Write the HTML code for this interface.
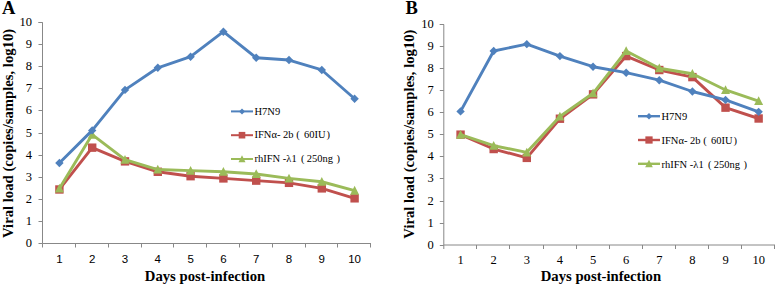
<!DOCTYPE html>
<html><head><meta charset="utf-8"><style>
html,body{margin:0;padding:0;background:#fff;}
body{width:778px;height:286px;overflow:hidden;}
svg{display:block;}
text{font-family:"Liberation Serif",serif;fill:#000;}
.yl{font-size:12.5px;}
.xlx{font-family:"Liberation Sans",sans-serif;font-size:11.5px;}
.xls{font-size:12.5px;}
.lg{font-size:10.5px;}
.let{font-size:18.5px;font-weight:bold;}
.xt{font-size:14.7px;font-weight:bold;}
.yt{font-size:14.7px;font-weight:bold;}
</style></head><body>
<svg width="778" height="286" viewBox="0 0 778 286">
<path d="M38.5,22.5H42.5V243.5H371.0" fill="none" stroke="#888888" stroke-width="1"/>
<path d="M38.5,243.5H42.5" stroke="#888888" stroke-width="1"/>
<text x="32" y="247.20" text-anchor="end" class="yl">0</text>
<path d="M38.5,221.5H42.5" stroke="#888888" stroke-width="1"/>
<text x="32" y="225.07" text-anchor="end" class="yl">1</text>
<path d="M38.5,199.5H42.5" stroke="#888888" stroke-width="1"/>
<text x="32" y="202.94" text-anchor="end" class="yl">2</text>
<path d="M38.5,177.5H42.5" stroke="#888888" stroke-width="1"/>
<text x="32" y="180.81" text-anchor="end" class="yl">3</text>
<path d="M38.5,155.5H42.5" stroke="#888888" stroke-width="1"/>
<text x="32" y="158.68" text-anchor="end" class="yl">4</text>
<path d="M38.5,133.5H42.5" stroke="#888888" stroke-width="1"/>
<text x="32" y="136.55" text-anchor="end" class="yl">5</text>
<path d="M38.5,110.5H42.5" stroke="#888888" stroke-width="1"/>
<text x="32" y="114.42" text-anchor="end" class="yl">6</text>
<path d="M38.5,88.5H42.5" stroke="#888888" stroke-width="1"/>
<text x="32" y="92.29" text-anchor="end" class="yl">7</text>
<path d="M38.5,66.5H42.5" stroke="#888888" stroke-width="1"/>
<text x="32" y="70.16" text-anchor="end" class="yl">8</text>
<path d="M38.5,44.5H42.5" stroke="#888888" stroke-width="1"/>
<text x="32" y="48.03" text-anchor="end" class="yl">9</text>
<path d="M38.5,22.5H42.5" stroke="#888888" stroke-width="1"/>
<text x="32" y="25.90" text-anchor="end" class="yl">10</text>
<path d="M42.5,243.5V247.5" stroke="#888888" stroke-width="1"/>
<path d="M75.5,243.5V247.5" stroke="#888888" stroke-width="1"/>
<path d="M108.5,243.5V247.5" stroke="#888888" stroke-width="1"/>
<path d="M141.5,243.5V247.5" stroke="#888888" stroke-width="1"/>
<path d="M173.5,243.5V247.5" stroke="#888888" stroke-width="1"/>
<path d="M206.5,243.5V247.5" stroke="#888888" stroke-width="1"/>
<path d="M239.5,243.5V247.5" stroke="#888888" stroke-width="1"/>
<path d="M272.5,243.5V247.5" stroke="#888888" stroke-width="1"/>
<path d="M305.5,243.5V247.5" stroke="#888888" stroke-width="1"/>
<path d="M337.5,243.5V247.5" stroke="#888888" stroke-width="1"/>
<path d="M370.5,243.5V247.5" stroke="#888888" stroke-width="1"/>
<text x="59.40" y="262.7" text-anchor="middle" class="xlx">1</text>
<text x="92.20" y="262.7" text-anchor="middle" class="xlx">2</text>
<text x="125.00" y="262.7" text-anchor="middle" class="xlx">3</text>
<text x="157.80" y="262.7" text-anchor="middle" class="xlx">4</text>
<text x="190.60" y="262.7" text-anchor="middle" class="xlx">5</text>
<text x="223.40" y="262.7" text-anchor="middle" class="xlx">6</text>
<text x="256.20" y="262.7" text-anchor="middle" class="xlx">7</text>
<text x="289.00" y="262.7" text-anchor="middle" class="xlx">8</text>
<text x="321.80" y="262.7" text-anchor="middle" class="xlx">9</text>
<text x="354.60" y="262.7" text-anchor="middle" class="xlx">10</text>
<polyline points="59.40,189.48 92.20,147.66 125.00,161.38 157.80,171.78 190.60,176.20 223.40,178.42 256.20,180.63 289.00,182.84 321.80,188.38 354.60,198.33" fill="none" stroke="#C0504D" stroke-width="2.9" stroke-linejoin="round"/>
<rect x="55.20" y="185.28" width="8.40" height="8.40" fill="#C0504D"/>
<rect x="88.00" y="143.46" width="8.40" height="8.40" fill="#C0504D"/>
<rect x="120.80" y="157.18" width="8.40" height="8.40" fill="#C0504D"/>
<rect x="153.60" y="167.58" width="8.40" height="8.40" fill="#C0504D"/>
<rect x="186.40" y="172.00" width="8.40" height="8.40" fill="#C0504D"/>
<rect x="219.20" y="174.22" width="8.40" height="8.40" fill="#C0504D"/>
<rect x="252.00" y="176.43" width="8.40" height="8.40" fill="#C0504D"/>
<rect x="284.80" y="178.64" width="8.40" height="8.40" fill="#C0504D"/>
<rect x="317.60" y="184.18" width="8.40" height="8.40" fill="#C0504D"/>
<rect x="350.40" y="194.13" width="8.40" height="8.40" fill="#C0504D"/>
<polyline points="59.40,188.38 92.20,134.60 125.00,159.61 157.80,169.56 190.60,170.67 223.40,171.78 256.20,173.99 289.00,178.42 321.80,181.74 354.60,190.59" fill="none" stroke="#9BBB59" stroke-width="2.9" stroke-linejoin="round"/>
<path d="M54.90,192.43L59.40,183.65L63.90,192.43Z" fill="#9BBB59"/>
<path d="M87.70,138.65L92.20,129.87L96.70,138.65Z" fill="#9BBB59"/>
<path d="M120.50,163.66L125.00,154.88L129.50,163.66Z" fill="#9BBB59"/>
<path d="M153.30,173.61L157.80,164.84L162.30,173.61Z" fill="#9BBB59"/>
<path d="M186.10,174.72L190.60,165.95L195.10,174.72Z" fill="#9BBB59"/>
<path d="M218.90,175.83L223.40,167.05L227.90,175.83Z" fill="#9BBB59"/>
<path d="M251.70,178.04L256.20,169.27L260.70,178.04Z" fill="#9BBB59"/>
<path d="M284.50,182.47L289.00,173.69L293.50,182.47Z" fill="#9BBB59"/>
<path d="M317.30,185.79L321.80,177.01L326.30,185.79Z" fill="#9BBB59"/>
<path d="M350.10,194.64L354.60,185.86L359.10,194.64Z" fill="#9BBB59"/>
<polyline points="59.40,162.93 92.20,130.39 125.00,89.90 157.80,67.77 190.60,56.70 223.40,31.69 256.20,57.81 289.00,60.02 321.80,69.98 354.60,98.75" fill="none" stroke="#4F81BD" stroke-width="2.9" stroke-linejoin="round"/>
<path d="M55.20,162.93L59.40,158.73L63.60,162.93L59.40,167.13Z" fill="#4F81BD"/>
<path d="M88.00,130.39L92.20,126.19L96.40,130.39L92.20,134.59Z" fill="#4F81BD"/>
<path d="M120.80,89.90L125.00,85.70L129.20,89.90L125.00,94.10Z" fill="#4F81BD"/>
<path d="M153.60,67.77L157.80,63.57L162.00,67.77L157.80,71.97Z" fill="#4F81BD"/>
<path d="M186.40,56.70L190.60,52.50L194.80,56.70L190.60,60.90Z" fill="#4F81BD"/>
<path d="M219.20,31.69L223.40,27.49L227.60,31.69L223.40,35.89Z" fill="#4F81BD"/>
<path d="M252.00,57.81L256.20,53.61L260.40,57.81L256.20,62.01Z" fill="#4F81BD"/>
<path d="M284.80,60.02L289.00,55.82L293.20,60.02L289.00,64.22Z" fill="#4F81BD"/>
<path d="M317.60,69.98L321.80,65.78L326.00,69.98L321.80,74.18Z" fill="#4F81BD"/>
<path d="M350.40,98.75L354.60,94.55L358.80,98.75L354.60,102.95Z" fill="#4F81BD"/>
<path d="M231,111.40H253" stroke="#4F81BD" stroke-width="2"/>
<path d="M239.00,111.40L242.00,108.40L245.00,111.40L242.00,114.40Z" fill="#4F81BD"/>
<text x="254.5" y="114.60" style="font-size:10.5px">H7N9</text>
<path d="M231,135.20H253" stroke="#C0504D" stroke-width="2"/>
<rect x="238.70" y="131.90" width="6.60" height="6.60" fill="#C0504D"/>
<text x="254.5" y="138.40" style="font-size:10.5px">IFNα- 2b<tspan x="296.30">(</tspan><tspan x="304.00">60IU</tspan><tspan x="326.50">)</tspan></text>
<path d="M231,159.00H253" stroke="#9BBB59" stroke-width="2"/>
<path d="M238.50,162.15L242.00,155.32L245.50,162.15Z" fill="#9BBB59"/>
<text x="254.5" y="162.20" style="font-size:10.5px">rhIFN -λ1<tspan x="301.00">(</tspan><tspan x="306.80">250ng</tspan><tspan x="336.50">)</tspan></text>
<text x="2" y="14.2" class="let">A</text>
<text x="205.00" y="280.9" text-anchor="middle" class="xt">Days post-infection</text>
<text transform="translate(13,133.4) rotate(-90)" text-anchor="middle" class="yt">Viral load (copies/samples, log10)</text>
<path d="M439.8,24.5H443.8V245H775.0" fill="none" stroke="#888888" stroke-width="1"/>
<path d="M439.8,245.5H443.8" stroke="#888888" stroke-width="1"/>
<text x="433.8" y="248.80" text-anchor="end" class="yl">0</text>
<path d="M439.8,223.5H443.8" stroke="#888888" stroke-width="1"/>
<text x="433.8" y="226.67" text-anchor="end" class="yl">1</text>
<path d="M439.8,201.5H443.8" stroke="#888888" stroke-width="1"/>
<text x="433.8" y="204.54" text-anchor="end" class="yl">2</text>
<path d="M439.8,178.5H443.8" stroke="#888888" stroke-width="1"/>
<text x="433.8" y="182.41" text-anchor="end" class="yl">3</text>
<path d="M439.8,156.5H443.8" stroke="#888888" stroke-width="1"/>
<text x="433.8" y="160.28" text-anchor="end" class="yl">4</text>
<path d="M439.8,134.5H443.8" stroke="#888888" stroke-width="1"/>
<text x="433.8" y="138.15" text-anchor="end" class="yl">5</text>
<path d="M439.8,112.5H443.8" stroke="#888888" stroke-width="1"/>
<text x="433.8" y="116.02" text-anchor="end" class="yl">6</text>
<path d="M439.8,90.5H443.8" stroke="#888888" stroke-width="1"/>
<text x="433.8" y="93.89" text-anchor="end" class="yl">7</text>
<path d="M439.8,68.5H443.8" stroke="#888888" stroke-width="1"/>
<text x="433.8" y="71.76" text-anchor="end" class="yl">8</text>
<path d="M439.8,46.5H443.8" stroke="#888888" stroke-width="1"/>
<text x="433.8" y="49.63" text-anchor="end" class="yl">9</text>
<path d="M439.8,24.5H443.8" stroke="#888888" stroke-width="1"/>
<text x="433.8" y="27.50" text-anchor="end" class="yl">10</text>
<path d="M443.8,245V249" stroke="#888888" stroke-width="1"/>
<path d="M476.5,245V249" stroke="#888888" stroke-width="1"/>
<path d="M509.5,245V249" stroke="#888888" stroke-width="1"/>
<path d="M543.5,245V249" stroke="#888888" stroke-width="1"/>
<path d="M576.5,245V249" stroke="#888888" stroke-width="1"/>
<path d="M609.5,245V249" stroke="#888888" stroke-width="1"/>
<path d="M642.5,245V249" stroke="#888888" stroke-width="1"/>
<path d="M675.5,245V249" stroke="#888888" stroke-width="1"/>
<path d="M708.5,245V249" stroke="#888888" stroke-width="1"/>
<path d="M741.5,245V249" stroke="#888888" stroke-width="1"/>
<path d="M774.5,245V249" stroke="#888888" stroke-width="1"/>
<text x="460.56" y="264.3" text-anchor="middle" class="xls">1</text>
<text x="493.68" y="264.3" text-anchor="middle" class="xls">2</text>
<text x="526.80" y="264.3" text-anchor="middle" class="xls">3</text>
<text x="559.92" y="264.3" text-anchor="middle" class="xls">4</text>
<text x="593.04" y="264.3" text-anchor="middle" class="xls">5</text>
<text x="626.16" y="264.3" text-anchor="middle" class="xls">6</text>
<text x="659.28" y="264.3" text-anchor="middle" class="xls">7</text>
<text x="692.40" y="264.3" text-anchor="middle" class="xls">8</text>
<text x="725.52" y="264.3" text-anchor="middle" class="xls">9</text>
<text x="758.64" y="264.3" text-anchor="middle" class="xls">10</text>
<polyline points="460.56,134.65 493.68,149.03 526.80,157.89 559.92,118.72 593.04,94.37 626.16,56.09 659.28,70.03 692.40,77.11 725.52,107.65 758.64,118.50" fill="none" stroke="#C0504D" stroke-width="2.9" stroke-linejoin="round"/>
<rect x="456.36" y="130.45" width="8.40" height="8.40" fill="#C0504D"/>
<rect x="489.48" y="144.83" width="8.40" height="8.40" fill="#C0504D"/>
<rect x="522.60" y="153.69" width="8.40" height="8.40" fill="#C0504D"/>
<rect x="555.72" y="114.52" width="8.40" height="8.40" fill="#C0504D"/>
<rect x="588.84" y="90.17" width="8.40" height="8.40" fill="#C0504D"/>
<rect x="621.96" y="51.89" width="8.40" height="8.40" fill="#C0504D"/>
<rect x="655.08" y="65.83" width="8.40" height="8.40" fill="#C0504D"/>
<rect x="688.20" y="72.91" width="8.40" height="8.40" fill="#C0504D"/>
<rect x="721.32" y="103.45" width="8.40" height="8.40" fill="#C0504D"/>
<rect x="754.44" y="114.30" width="8.40" height="8.40" fill="#C0504D"/>
<polyline points="460.56,134.65 493.68,145.72 526.80,152.35 559.92,116.50 593.04,93.27 626.16,51.00 659.28,68.26 692.40,73.79 725.52,89.95 758.64,101.01" fill="none" stroke="#9BBB59" stroke-width="2.9" stroke-linejoin="round"/>
<path d="M456.06,138.70L460.56,129.93L465.06,138.70Z" fill="#9BBB59"/>
<path d="M489.18,149.77L493.68,140.99L498.18,149.77Z" fill="#9BBB59"/>
<path d="M522.30,156.40L526.80,147.63L531.30,156.40Z" fill="#9BBB59"/>
<path d="M555.42,120.55L559.92,111.78L564.42,120.55Z" fill="#9BBB59"/>
<path d="M588.54,97.32L593.04,88.54L597.54,97.32Z" fill="#9BBB59"/>
<path d="M621.66,55.05L626.16,46.27L630.66,55.05Z" fill="#9BBB59"/>
<path d="M654.78,72.31L659.28,63.54L663.78,72.31Z" fill="#9BBB59"/>
<path d="M687.90,77.84L692.40,69.07L696.90,77.84Z" fill="#9BBB59"/>
<path d="M721.02,94.00L725.52,85.22L730.02,94.00Z" fill="#9BBB59"/>
<path d="M754.14,105.06L758.64,96.29L763.14,105.06Z" fill="#9BBB59"/>
<polyline points="460.56,111.41 493.68,51.00 526.80,44.14 559.92,56.09 593.04,66.71 626.16,72.69 659.28,80.21 692.40,91.50 725.52,99.91 758.64,111.86" fill="none" stroke="#4F81BD" stroke-width="2.9" stroke-linejoin="round"/>
<path d="M456.36,111.41L460.56,107.21L464.76,111.41L460.56,115.61Z" fill="#4F81BD"/>
<path d="M489.48,51.00L493.68,46.80L497.88,51.00L493.68,55.20Z" fill="#4F81BD"/>
<path d="M522.60,44.14L526.80,39.94L531.00,44.14L526.80,48.34Z" fill="#4F81BD"/>
<path d="M555.72,56.09L559.92,51.89L564.12,56.09L559.92,60.29Z" fill="#4F81BD"/>
<path d="M588.84,66.71L593.04,62.51L597.24,66.71L593.04,70.91Z" fill="#4F81BD"/>
<path d="M621.96,72.69L626.16,68.49L630.36,72.69L626.16,76.89Z" fill="#4F81BD"/>
<path d="M655.08,80.21L659.28,76.01L663.48,80.21L659.28,84.41Z" fill="#4F81BD"/>
<path d="M688.20,91.50L692.40,87.30L696.60,91.50L692.40,95.70Z" fill="#4F81BD"/>
<path d="M721.32,99.91L725.52,95.71L729.72,99.91L725.52,104.11Z" fill="#4F81BD"/>
<path d="M754.44,111.86L758.64,107.66L762.84,111.86L758.64,116.06Z" fill="#4F81BD"/>
<path d="M638,116.20H660" stroke="#4F81BD" stroke-width="2.4"/>
<path d="M645.70,116.20L649.00,112.90L652.30,116.20L649.00,119.50Z" fill="#4F81BD"/>
<text x="661.5" y="120.10" style="font-size:10.5px">H7N9</text>
<path d="M638,140.00H660" stroke="#C0504D" stroke-width="2.4"/>
<rect x="645.37" y="136.37" width="7.26" height="7.26" fill="#C0504D"/>
<text x="661.5" y="143.90" style="font-size:10.5px">IFNα- 2b<tspan x="703.30">(</tspan><tspan x="711.00">60IU</tspan><tspan x="733.50">)</tspan></text>
<path d="M638,163.80H660" stroke="#9BBB59" stroke-width="2.4"/>
<path d="M645.15,167.27L649.00,159.76L652.85,167.27Z" fill="#9BBB59"/>
<text x="661.5" y="167.70" style="font-size:10.5px">rhIFN -λ1<tspan x="708.00">(</tspan><tspan x="713.80">250ng</tspan><tspan x="743.50">)</tspan></text>
<text x="405.5" y="14.2" class="let">B</text>
<text x="600.90" y="280.6" text-anchor="middle" class="xt">Days post-infection</text>
<text transform="translate(414,134.1) rotate(-90)" text-anchor="middle" class="yt">Viral load (copies/samples, log10)</text>
</svg></body></html>
